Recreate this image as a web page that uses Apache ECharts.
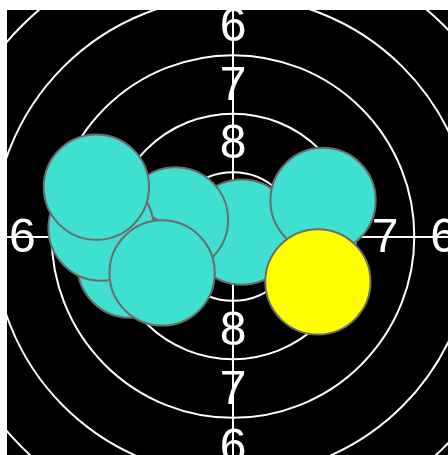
<!DOCTYPE html>
<html>
<head>
<meta charset="utf-8">
<script src="https://cdn.jsdelivr.net/npm/echarts@6/dist/echarts.min.js"></script>
<style>
  html, body { margin: 0; padding: 0; background: #fff; }
  #target { width: 448px; height: 455px; }
</style>
</head>
<body>
<div id="target"></div>
<script>
// 10m air rifle target, all values in mm
const ringNumbers = [10, 9, 8, 7, 6, 5];
const ringRadii = [0.25, 2.75, 5.25, 7.75, 10.25, 12.75];
const labelRings = [8, 7, 6, 5];
const pelletRadius = 2.25;

// shots in firing order, last one highlighted
const shotX = [0.38, -2.46, -4.40, -5.64, -5.84, -3.03, 3.85, 3.63];
const shotY = [0.19, 0.71, -1.22, 0.36, 2.11, -1.56, 1.54, -1.94];

const ringData = ringRadii.map(r => [0, 0, r]);

const labelData = [];
labelRings.forEach(n => {
  const i = ringNumbers.indexOf(n);
  const mid = (ringRadii[i] + ringRadii[i - 1]) / 2;
  labelData.push([0, mid, n], [0, -mid, n], [-mid, 0, n], [mid, 0, n]);
});

const shotData = shotX.map((x, i) => [x, shotY[i], pelletRadius, i]);

const chart = echarts.init(document.getElementById('target'));

function circleItem(params, api, style) {
  const c = api.coord([api.value(0), api.value(1)]);
  const r = api.size([api.value(2), 0])[0];
  return { type: 'circle', shape: { cx: c[0], cy: c[1], r: r }, style: style };
}

chart.setOption({
  animation: false,
  grid: {
    left: 7, top: 10, right: 0, bottom: 0,
    show: true, backgroundColor: '#000', borderWidth: 0
  },
  xAxis: {
    type: 'value', min: -9.66, max: 9.19,
    axisLine: { onZero: true, lineStyle: { color: '#fff', width: 2 } },
    axisTick: { show: false }, axisLabel: { show: false }, splitLine: { show: false }
  },
  yAxis: {
    type: 'value', min: -9.34, max: 9.68,
    axisLine: { onZero: true, lineStyle: { color: '#fff', width: 2 } },
    axisTick: { show: false }, axisLabel: { show: false }, splitLine: { show: false }
  },
  series: [
    {
      type: 'custom', clip: true, z: 1, silent: true,
      data: ringData,
      renderItem: (params, api) => circleItem(params, api, {
        fill: 'none', stroke: '#fff', lineWidth: 2
      })
    },
    {
      type: 'custom', clip: true, z: 2, silent: true,
      data: labelData,
      renderItem: (params, api) => {
        const c = api.coord([api.value(0), api.value(1)]);
        return {
          type: 'text',
          style: {
            text: String(api.value(2)),
            x: c[0], y: c[1] + 2,
            fill: '#fff',
            font: '48px "Liberation Sans", Arial, sans-serif',
            align: 'center', verticalAlign: 'middle'
          }
        };
      }
    },
    {
      type: 'custom', clip: true, z: 3, silent: true,
      data: shotData,
      renderItem: (params, api) => circleItem(params, api, {
        fill: api.value(3) === shotX.length - 1 ? '#ffff00' : '#40e0d0',
        stroke: '#6b6b6b', lineWidth: 2
      })
    }
  ]
});
</script>
</body>
</html>
